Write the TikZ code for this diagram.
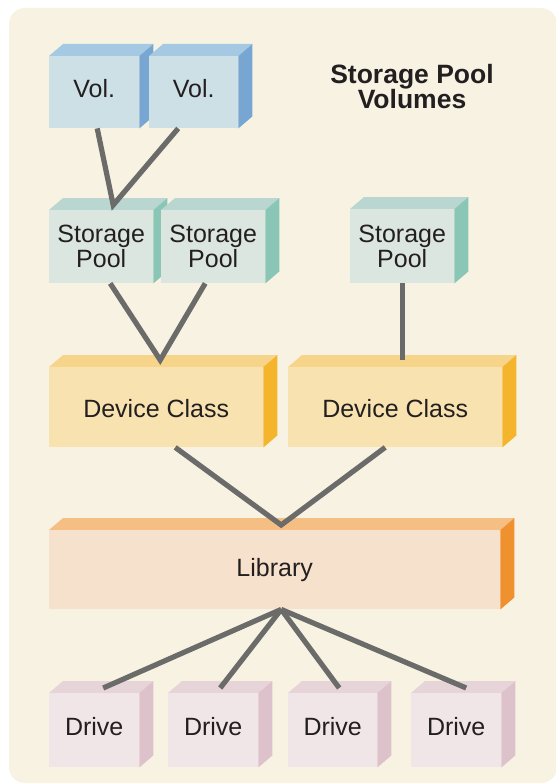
\documentclass[tikz,border=0pt]{standalone}
\usepackage{fontspec}
\setmainfont{Liberation Sans}
\usepackage{tikz}
\usetikzlibrary{positioning, calc}

\definecolor{bgcream}{HTML}{F8F2E2}
\definecolor{vol-front}{HTML}{CDE0E6}
\definecolor{vol-top}{HTML}{A6C9E3}
\definecolor{vol-side}{HTML}{77A6D2}
\definecolor{pool-front}{HTML}{DCE6E1}
\definecolor{pool-top}{HTML}{B9D6D0}
\definecolor{pool-side}{HTML}{8AC6B6}
\definecolor{class-front}{HTML}{F8E3B0}
\definecolor{class-top}{HTML}{F6D48A}
\definecolor{class-side}{HTML}{F4B52C}
\definecolor{lib-front}{HTML}{F6E1CC}
\definecolor{lib-top}{HTML}{F5BF84}
\definecolor{lib-side}{HTML}{F09130}
\definecolor{drive-front}{HTML}{F0E6E7}
\definecolor{drive-top}{HTML}{E6D4D8}
\definecolor{drive-side}{HTML}{DEC2CB}
\definecolor{linkgray}{HTML}{6B6B69}
\definecolor{inktext}{HTML}{231F20}

\pgfdeclarelayer{back}
\pgfdeclarelayer{faces}
\pgfsetlayers{back,faces,main}

\begin{document}
\begin{tikzpicture}[x=1pt, y=-1pt,
		Block/.style={
			rectangle,
			inner sep=0pt,
			anchor=north west,
			fill=#1-front,
			align=center,
			text=inktext,
			font=\fontsize{25}{25}\selectfont
		},
		Lift/.style={text depth=7pt},
		Heading/.style={
			align=center,
			text=inktext,
			font=\fontsize{26.5}{25}\bfseries\selectfont
		},
		Link/.style={draw=linkgray, line width=5.2pt, line join=miter}]
		\useasboundingbox (0,0) rectangle (555,784);
		\begin{pgfonlayer}{back}
			\fill[bgcream, rounded corners=16pt] (9,8) rectangle (557,783);
		\end{pgfonlayer}
		\node[Heading] (heading) at (412,86.5) {Storage Pool\\Volumes};
		% front faces
		\node[Block=vol, Lift, minimum width=90pt, minimum height=72pt] (vola) at (49,56) {Vol.};
		\node[Block=vol, Lift, minimum width=89pt, minimum height=72pt] (volb) at (149,56) {Vol.};
		\node[Block=pool, minimum width=104pt, minimum height=73pt] (poola) at (49,210) {Storage\\Pool};
		\node[Block=pool, minimum width=104pt, minimum height=73pt] (poolb) at (161,210) {Storage\\Pool};
		\node[Block=pool, minimum width=104pt, minimum height=74pt] (poolc) at (350,209) {Storage\\Pool};
		\node[Block=class, text height=20pt, minimum width=214pt, minimum height=80pt] (classa) at (49,367) {Device Class};
		\node[Block=class, text height=20pt, minimum width=214pt, minimum height=80pt] (classb) at (288,367) {Device Class};
		\node[Block=lib, minimum width=451pt, minimum height=79pt] (lib) at (49,530) {Library};
		\node[Block=drive, Lift, minimum width=90pt, minimum height=74pt] (drivea) at (49,693) {Drive};
		\node[Block=drive, Lift, minimum width=90pt, minimum height=74pt] (driveb) at (168,693) {Drive};
		\node[Block=drive, Lift, minimum width=89pt, minimum height=74pt] (drivec) at (288,693) {Drive};
		\node[Block=drive, Lift, minimum width=90pt, minimum height=74pt] (drived) at (411,693) {Drive};
		% top and side faces, behind the fronts
		\begin{pgfonlayer}{faces}
			\foreach \nm/\tone in {vola/vol, volb/vol, poola/pool, poolb/pool, poolc/pool,
				classa/class, classb/class, lib/lib, drivea/drive, driveb/drive, drivec/drive, drived/drive}{
				\fill[\tone-top] (\nm.north west) -- ++(14,-12) -- ([shift={(14,-12)}]\nm.north east) -- (\nm.north east) -- cycle;
				\fill[\tone-side] (\nm.north east) -- ++(14,-12) -- ([shift={(14,-12)}]\nm.south east) -- (\nm.south east) -- cycle;
			}
		\end{pgfonlayer}
		% connectors
		\coordinate (volmeet) at ([shift={(12pt,5pt)}]poola.north);
		\coordinate (poolmeet) at ([shift={(4pt,7pt)}]classa.north);
		\coordinate (poolcend) at ([shift={(7pt,7pt)}]classb.north);
		\coordinate (classmeet) at ([shift={(6.5pt,5pt)}]lib.north);
		\draw[Link] ([xshift=3pt]vola.south) -- (volmeet) -- ([xshift=-15.5pt]volb.south);
		\draw[Link] ([xshift=9pt]poola.south) -- (poolmeet) -- ([xshift=-8pt]poolb.south);
		\draw[Link] (poolc.south) -- (poolcend);
		\draw[Link] ([xshift=19pt]classa.south) -- (classmeet) -- ([xshift=-10pt]classb.south);
		\foreach \dr/\dx in {drivea/9, driveb/7, drivec/6.5, drived/10}
			\draw[Link] ([xshift=6.5pt]lib.south) -- ([shift={(\dx pt,5pt)}]\dr.north);
	\end{tikzpicture}
\end{document}
